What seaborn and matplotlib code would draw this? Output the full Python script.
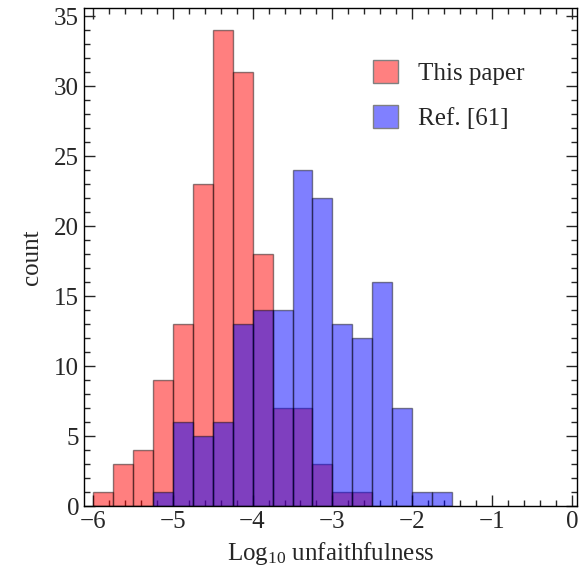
import numpy as np
import pandas as pd
import seaborn as sns
import matplotlib.pyplot as plt
from matplotlib.ticker import MultipleLocator
from matplotlib.patches import Patch

# bin left edges (width 0.25) and counts
red_left = [-6.0, -5.75, -5.5, -5.25, -5.0, -4.75, -4.5, -4.25, -4.0, -3.75, -3.5, -3.25, -3.0, -2.75]
red_count = [1, 3, 4, 9, 13, 23, 34, 31, 18, 7, 7, 3, 1, 1]

blue_left = [-5.25, -5.0, -4.75, -4.5, -4.25, -4.0, -3.75, -3.5, -3.25, -3.0, -2.75, -2.5, -2.25, -2.0, -1.75]
blue_count = [1, 6, 5, 6, 13, 14, 14, 24, 22, 13, 12, 16, 7, 1, 1]

labels = ["This paper", "Ref. [61]"]
width = 0.25

df = pd.DataFrame({
    "x": [v + width / 2 for v in red_left] + [v + width / 2 for v in blue_left],
    "w": red_count + blue_count,
    "src": [labels[0]] * len(red_left) + [labels[1]] * len(blue_left),
})

sns.set_style("ticks")
plt.rcParams["font.family"] = ["Liberation Serif", "DejaVu Serif"]
plt.rcParams["mathtext.fontset"] = "custom"
plt.rcParams["mathtext.rm"] = "Liberation Serif"
plt.rcParams["mathtext.it"] = "Liberation Serif:italic"

fig = plt.figure(figsize=(5.79, 5.76), dpi=100)
ax = fig.add_axes([0.145, 0.1215, 0.8515, 0.8645])

# blue drawn over red
sns.histplot(data=df, x="x", weights="w", hue="src", hue_order=[labels[1], labels[0]],
             binwidth=width, binrange=(-6.0, -1.5),
             palette={labels[0]: "#ff0000", labels[1]: "#0000ff"},
             alpha=0.5, edgecolor="black", linewidth=1.0,
             element="bars", multiple="layer", ax=ax, legend=False)

for p in ax.patches:
    p.set_edgecolor((0, 0, 0, 0.45))

ax.set_xlim(-6.11, 0.06)
ax.set_ylim(0, 35.6)
ax.xaxis.set_major_locator(MultipleLocator(1))
ax.xaxis.set_minor_locator(MultipleLocator(0.2))
ax.yaxis.set_major_locator(MultipleLocator(5))
ax.yaxis.set_minor_locator(MultipleLocator(1))
ax.tick_params(which="both", direction="in", top=True, right=True, labelsize=18, width=1)
ax.tick_params(which="major", length=8)
ax.tick_params(which="minor", length=4)
for s in ax.spines.values():
    s.set_linewidth(1)
    s.set_color("black")

ax.set_xlabel(r"Log$_{10}$ unfaithfulness", fontsize=18, labelpad=5)
ax.set_ylabel("count", fontsize=18, labelpad=8)

handles = [Patch(facecolor="#ff8080", edgecolor="#808080"),
           Patch(facecolor="#8080ff", edgecolor="#808080")]
ax.legend(handles, labels, loc="upper right", bbox_to_anchor=(0.94, 0.94),
          frameon=False, fontsize=18, handlelength=1.0, handleheight=1.0,
          handletextpad=0.8, labelspacing=0.8)

fig.savefig("out.png", dpi=100)
